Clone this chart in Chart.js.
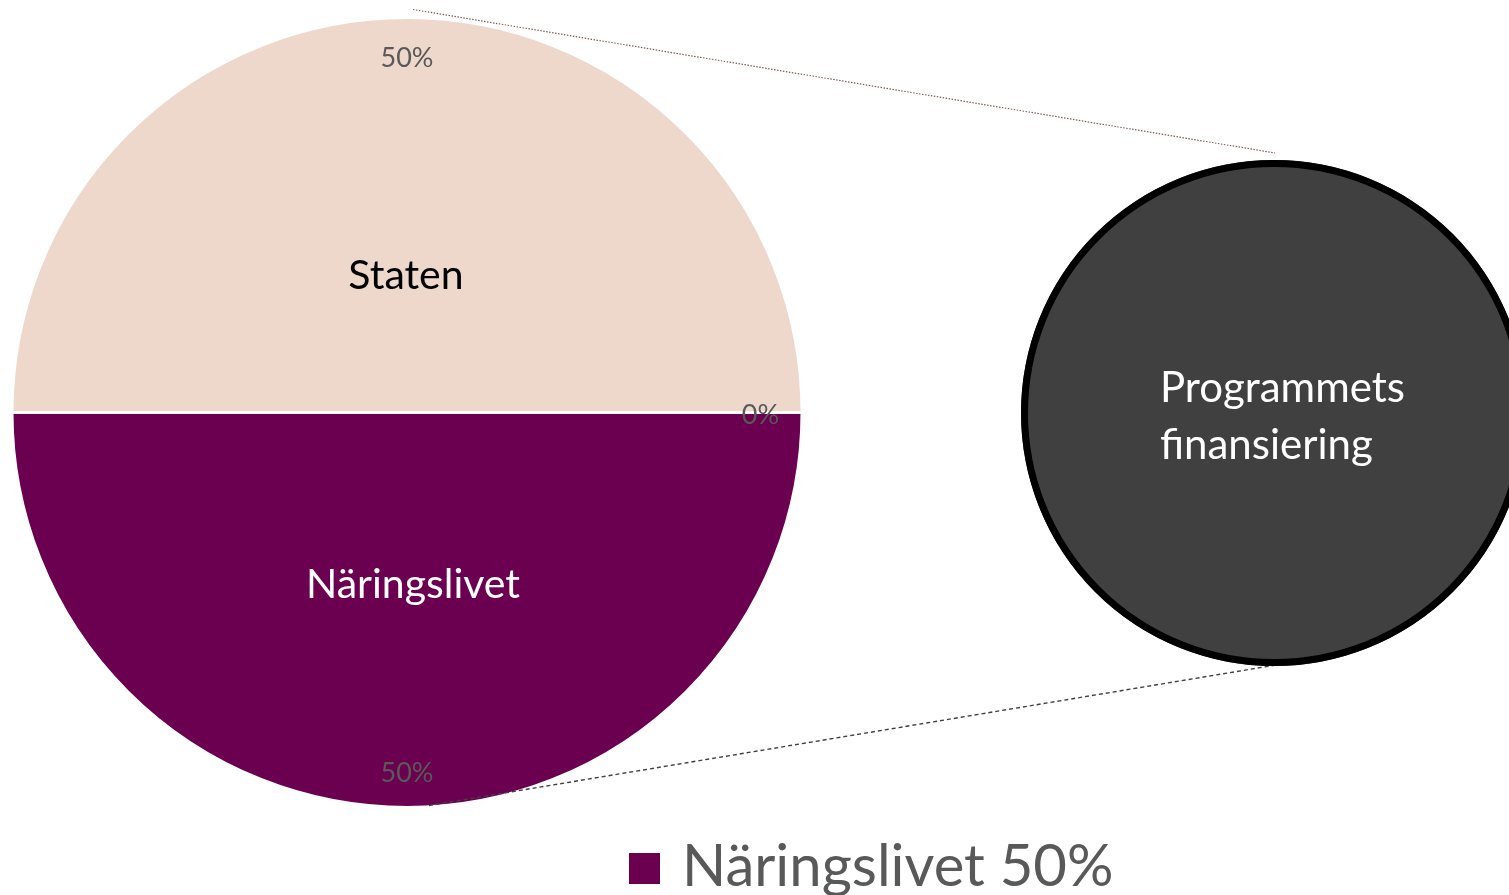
<!DOCTYPE html>
<html>
<head>
<meta charset="utf-8">
<title>Programmets finansiering</title>
<script src="https://cdn.jsdelivr.net/npm/chart.js@4.4.0/dist/chart.umd.min.js"></script>
<style>
  html, body { margin: 0; padding: 0; background: #fff; overflow: hidden; }
  #wrap { position: relative; width: 1509px; height: 895px; overflow: hidden; }
  #main { position: absolute; left: 0; top: 0; }
  #sub { position: absolute; left: 1021px; top: 160px; }
</style>
</head>
<body>
<div id="wrap">
  <canvas id="main" width="1509" height="895"></canvas>
  <canvas id="sub" width="506" height="506"></canvas>
</div>
<script>
// main pie
const labels = ['Staten', 'Programmets finansiering', 'Näringslivet'];
const values = [50, 0, 50];
const colors = ['#EED7CB', '#404040', '#6B0050'];
// secondary pie (the "Programmets finansiering" part)
const subLabels = ['Programmets', 'finansiering'];
const subValues = [100];
// what the legend shows
const legendLabels = ['Näringslivet'];

const FONT = 'Lato, "Open Sans", sans-serif';
const total = values.reduce((a, b) => a + b, 0);

// secondary circle first, so the main chart can read its geometry
const subChart = new Chart(document.getElementById('sub'), {
  type: 'pie',
  data: {
    labels: [subLabels.join(' ')],
    datasets: [{
      data: subValues,
      backgroundColor: '#404040',
      borderWidth: 0
    }]
  },
  options: {
    responsive: false,
    animation: false,
    events: [],
    plugins: { legend: { display: false }, tooltip: { enabled: false } }
  },
  plugins: [{
    id: 'subText',
    afterDatasetsDraw(chart) {
      const ctx = chart.ctx;
      const arc = chart.getDatasetMeta(0).data[0];
      ctx.save();
      // outline of the circle (stroked here so no radial seam shows)
      ctx.strokeStyle = '#000000';
      ctx.lineWidth = 7;
      ctx.beginPath();
      ctx.arc(arc.x, arc.y, arc.outerRadius - 3.5, 0, Math.PI * 2);
      ctx.stroke();
      ctx.fillStyle = '#ffffff';
      ctx.font = '42px ' + FONT;
      ctx.textAlign = 'left';
      ctx.textBaseline = 'middle';
      ctx.fillText(subLabels[0], arc.x - 114, arc.y - 25);
      ctx.fillText(subLabels[1], arc.x - 114, arc.y + 32);
      ctx.restore();
    }
  }]
});

const pieLabels = {
  id: 'pieLabels',
  afterDatasetsDraw(chart) {
    const ctx = chart.ctx;
    const meta = chart.getDatasetMeta(0);
    const nameRadius = [0.35, 0, 0.435];
    const nameColor = ['#000000', '#ffffff', '#ffffff'];
    ctx.save();
    ctx.textAlign = 'center';
    ctx.textBaseline = 'middle';

    // connector lines to the secondary circle
    const a0 = meta.data[0];
    const cx = a0.x, cy = a0.y, r = a0.outerRadius;
    const subArc = subChart.getDatasetMeta(0).data[0];
    const off = subChart.canvas.getBoundingClientRect();
    const sx = off.left + subArc.x, sy = off.top + subArc.y, sr = subArc.outerRadius;
    ctx.lineWidth = 1.2;
    ctx.strokeStyle = '#7a5f52';
    ctx.setLineDash([1.5, 1.5]);
    ctx.beginPath();
    ctx.moveTo(cx + 6, cy - r - 8);
    ctx.lineTo(sx + 1, sy - sr - 7);
    ctx.stroke();
    ctx.strokeStyle = '#404040';
    ctx.lineWidth = 1.4;
    ctx.setLineDash([4, 3]);
    ctx.beginPath();
    ctx.moveTo(cx + 22, cy + r - 2);
    ctx.lineTo(sx + 8, sy + sr - 2);
    ctx.stroke();
    ctx.setLineDash([]);

    meta.data.forEach((arc, i) => {
      const mid = (arc.startAngle + arc.endAngle) / 2;
      const pct = Math.round(values[i] / total * 100) + '%';
      ctx.fillStyle = '#595959';
      ctx.font = '27px ' + FONT;
      ctx.fillText(pct, arc.x + Math.cos(mid) * arc.outerRadius * 0.895, arc.y + Math.sin(mid) * arc.outerRadius * 0.905 + 3);
      if (values[i] > 0) {
        ctx.fillStyle = nameColor[i];
        ctx.font = '41px ' + FONT;
        ctx.fillText(labels[i], arc.x + Math.cos(mid) * arc.outerRadius * nameRadius[i] + (i === 2 ? 6 : -1),
          arc.y + Math.sin(mid) * arc.outerRadius * nameRadius[i] + (i === 0 ? 2 : 0));
      }
    });

    // legend
    legendLabels.forEach((name) => {
      const i = labels.indexOf(name);
      const text = name + ' ' + Math.round(values[i] / total * 100) + '%';
      ctx.fillStyle = colors[i];
      ctx.fillRect(629, 853, 31, 31);
      ctx.fillStyle = '#595959';
      ctx.font = '58px ' + FONT;
      ctx.textAlign = 'left';
      ctx.textBaseline = 'alphabetic';
      ctx.fillText(text, 682, 886);
    });
    ctx.restore();
  }
};

new Chart(document.getElementById('main'), {
  type: 'pie',
  data: {
    labels: labels,
    datasets: [{
      data: values,
      backgroundColor: colors,
      borderColor: '#ffffff',
      borderWidth: 3
    }]
  },
  options: {
    responsive: false,
    animation: false,
    events: [],
    rotation: -90,
    layout: { padding: { left: 10.5, top: 16, right: 705.5, bottom: 86 } },
    plugins: { legend: { display: false }, tooltip: { enabled: false } }
  },
  plugins: [pieLabels]
});
</script>
</body>
</html>
